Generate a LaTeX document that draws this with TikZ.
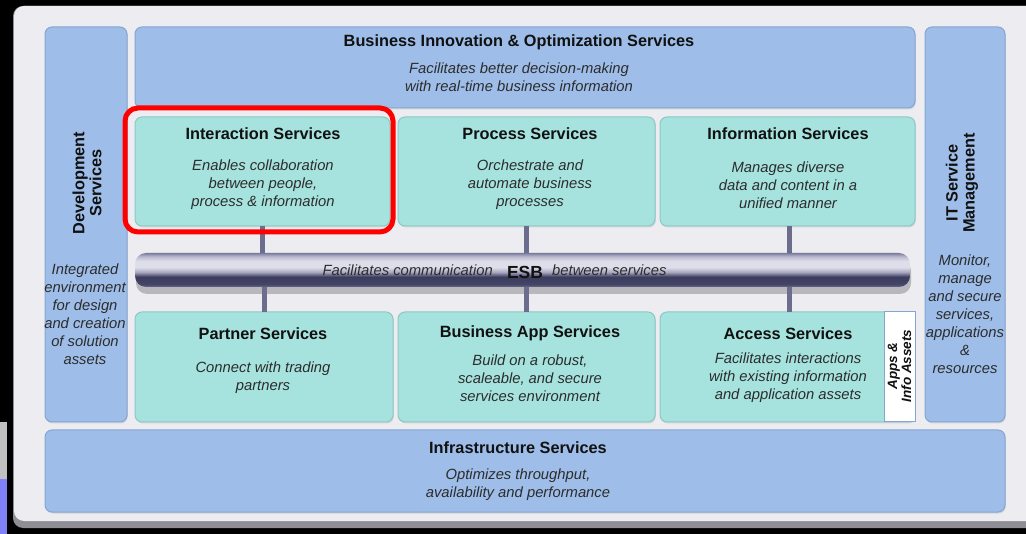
\documentclass[tikz,border=0pt]{standalone}
\usepackage{fontspec}
\setmainfont{Liberation Sans}
\usetikzlibrary{shadows}
\definecolor{panelcol}{HTML}{EDEDF1}
\definecolor{panelshadow}{HTML}{8E8E94}
\definecolor{boxblue}{HTML}{9EBEE9}
\definecolor{boxblueedge}{HTML}{86A6D2}
\definecolor{boxteal}{HTML}{A6E3DE}
\definecolor{boxtealedge}{HTML}{8CC8C4}
\definecolor{titlecol}{HTML}{111111}
\definecolor{bodycol}{HTML}{2C2C2C}
\definecolor{conncol}{HTML}{6C6C8C}
\definecolor{tzero}{HTML}{7A7A9C}
\definecolor{tone}{HTML}{B8B8CE}
\definecolor{ttwo}{HTML}{DEDEEA}
\definecolor{tthree}{HTML}{A8A8C0}
\definecolor{tfour}{HTML}{3C3C5E}
\definecolor{tfive}{HTML}{444466}
\definecolor{tsix}{HTML}{6A6A88}
\definecolor{stripgrey}{HTML}{C0C0C0}
\definecolor{stripblue}{HTML}{8080F8}
\definecolor{hlred}{HTML}{FF0000}
\pgfdeclareverticalshading{esbshade}{100bp}{color(0bp)=(tsix); color(25bp)=(tsix); color(29bp)=(tfive); color(40bp)=(tfour); color(47bp)=(tthree); color(54bp)=(ttwo); color(63bp)=(ttwo); color(70bp)=(tone); color(75bp)=(tzero); color(100bp)=(tzero)}
\tikzset{
  box/.style={rounded corners=7pt, inner sep=0pt, outer sep=0pt, line width=1pt, anchor=north west,
    drop shadow={shadow xshift=0.8pt, shadow yshift=-1.5pt, opacity=0.22}},
  bluebox/.style={box, fill=boxblue, draw=boxblueedge},
  tealbox/.style={box, fill=boxteal, draw=boxtealedge},
  assetbox/.style={inner sep=0pt, outer sep=0pt, anchor=north west, fill=white, draw=boxblueedge, line width=1pt},
  ttl/.style={font=\bfseries\fontsize{16.3}{17}\selectfont, text=titlecol, inner sep=0pt, align=center},
  body/.style={font=\itshape\fontsize{14.8}{18}\selectfont, text=bodycol, align=center, inner sep=0pt},
  conn/.style={line width=5pt, draw=conncol},
  esbtube/.style={rounded corners=11pt, inner sep=0pt, outer sep=0pt, anchor=north west,
    shading=esbshade,
    drop shadow={shadow xshift=1pt, shadow yshift=-7pt, opacity=0.22, fill=black}},
  hlbox/.style={rounded corners=13pt, inner sep=0pt, outer sep=0pt, anchor=north west, draw=hlred, line width=5pt},
}
\begin{document}
\begin{tikzpicture}[x=1pt,y=-1pt]
\useasboundingbox (0,0) rectangle (1026,534);
\fill[black] (0,0) rectangle (1026,534);
\clip (0,0) rectangle (1026,534);
% left strip
\fill[stripgrey] (0,422) rectangle (7,479);
\fill[stripblue] (0,479) rectangle (7,534);
% panel
\fill[panelshadow, rounded corners=10pt] (13,6) rectangle (1045,528);
\fill[panelcol, rounded corners=10pt] (14,6) rectangle (1045,521);

% boxes
\node[bluebox, minimum width=82, minimum height=395] (dev) at (45,27) {};
\node[bluebox, minimum width=80, minimum height=395] (itsm) at (925,27) {};
\node[bluebox, minimum width=780, minimum height=81] (bio) at (135,27) {};
\node[tealbox, minimum width=255, minimum height=109] (inter) at (135,117) {};
\node[tealbox, minimum width=257, minimum height=109] (proc) at (398,117) {};
\node[tealbox, minimum width=255, minimum height=109] (info) at (660,117) {};
\node[tealbox, minimum width=258, minimum height=110] (partner) at (135,312) {};
\node[tealbox, minimum width=257, minimum height=110] (bizapp) at (398,312) {};
\node[tealbox, minimum width=255, minimum height=110] (access) at (660,312) {};
\node[assetbox, minimum width=31, minimum height=110] (assets) at (884,312) {};
\node[bluebox, minimum width=960, minimum height=82] (infra) at (45,430) {};

% ESB tube
\node[esbtube, minimum width=775, minimum height=34] (esb) at (135,253) {};

% connectors
\draw[conn] (inter.south) -- (inter.south |- esb.north);
\draw[conn] (proc.south) -- (proc.south |- esb.north);
\draw[conn] ([xshift=2pt]info.south) -- ([xshift=2pt]info.south |- esb.north);
\draw[conn] (esb.south -| partner.north) -- (partner.north);
\draw[conn] (esb.south -| bizapp.north) -- (bizapp.north);
\draw[conn] ([xshift=2pt]esb.south -| access.north) -- ([xshift=2pt]access.north);

% highlight
\node[hlbox, minimum width=268, minimum height=124] (hl) at (125,108) {};

% texts
\node[ttl] (bioT) at (519,42.5) {Business Innovation \& Optimization Services};
\node[body] (bioB) at (519,77.5) {Facilitates better decision-making\\with real-time business information};

\node[ttl] (interT) at (263,133.5) {Interaction Services};
\node[body] (interB) at (263,185) {Enables collaboration\\between people,\\process \& information};

\node[ttl] (procT) at (530,133.5) {Process Services};
\node[body] (procB) at (530,185) {Orchestrate and\\automate business\\processes};

\node[ttl] (infoT) at (788,133.5) {Information Services};
\node[body] (infoB) at (788,185) {Manages diverse\\data and content in a\\unified manner};

\node[ttl] (partnerT) at (263,333.5) {Partner Services};
\node[body] (partnerB) at (263,378) {Connect with trading\\partners};

\node[ttl] (bizappT) at (530,333.5) {Business App Services};
\node[body] (bizappB) at (530,378) {Build on a robust,\\scaleable, and secure\\services environment};

\node[ttl] (accessT) at (788,333.5) {Access Services};
\node[body] (accessB) at (788,378) {Facilitates interactions\\with existing information\\and application assets};

\node[font=\bfseries\itshape\fontsize{13.5}{14}\selectfont, text=titlecol, align=center, inner sep=0pt, rotate=90] (assetsT) at (899.5,366) {Apps \&\\Info Assets};

\node[ttl] (infraT) at (518,447.5) {Infrastructure Services};
\node[body] (infraB) at (518,485) {Optimizes throughput,\\availability and performance};

\node[ttl, rotate=90] (devT) at (87,183) {Development\\Services};
\node[body] (devB) at (85,314) {Integrated\\environment\\for design\\and creation\\of solution\\assets};

\node[ttl, rotate=90] (itsmT) at (962,183) {IT Service\\Management};
\node[body] (itsmB) at (965,314) {Monitor,\\manage\\and secure\\services,\\applications\\\&\\resources};

% ESB labels
\node[body, anchor=east] (esbL) at (493,270) {Facilitates communication};
\node[ttl, font=\bfseries\fontsize{17.5}{18}\selectfont] (esbT) at (525,272) {ESB};
\node[body, anchor=west] (esbR) at (552,270) {between services};
\end{tikzpicture}
\end{document}
